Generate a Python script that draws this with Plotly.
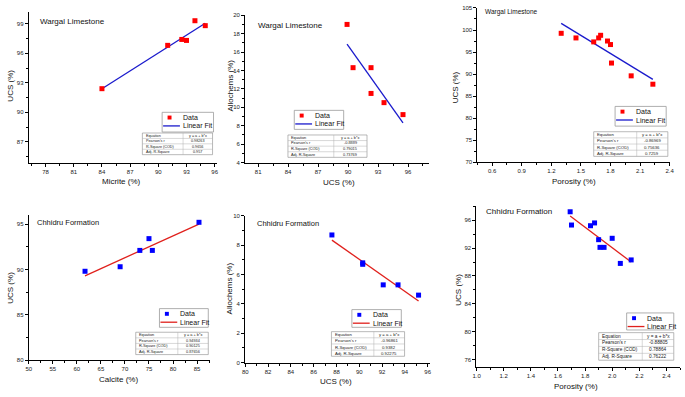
import plotly.graph_objects as go

W, H = 685, 397

# ---------------- data ----------------
p1_micrite = [84.0, 91.0, 92.5, 93.0, 93.9, 95.0]
p1_ucs = [92.4, 96.8, 97.4, 97.3, 99.3, 98.8]
p1_fit_x = [84.0, 95.0]
p1_fit_y = [92.4, 99.05]
p1_stats = ["0.98263", "0.9656", "0.957"]

p2_ucs = [89.9, 90.5, 92.3, 92.3, 93.6, 95.5]
p2_allochems = [19.0, 14.3, 14.3, 11.5, 10.5, 9.2]
p2_fit_x = [89.9, 95.5]
p2_fit_y = [16.85, 8.3]
p2_stats = ["-0.8889", "0.79015", "0.73769"]

p3_porosity = [1.30, 1.45, 1.63, 1.68, 1.70, 1.77, 1.80, 1.81, 2.01, 2.23]
p3_ucs = [99.25, 98.2, 97.3, 98.2, 98.8, 97.5, 96.7, 92.5, 89.6, 87.7]
p3_fit_x = [1.30, 2.23]
p3_fit_y = [101.5, 88.8]
p3_stats = ["-0.86969", "0.75636", "0.7259"]

p4_calcite = [61.7, 69.0, 73.1, 75.0, 75.7, 85.4]
p4_ucs = [89.8, 90.3, 92.1, 93.4, 92.1, 95.2]
p4_fit_x = [61.7, 85.4]
p4_fit_y = [89.3, 95.0]
p4_stats = ["0.94934", "0.90125", "0.87656"]

p5_ucs = [87.6, 90.3, 90.3, 92.1, 93.4, 95.2]
p5_allochems = [8.7, 6.8, 6.7, 5.3, 5.3, 4.6]
p5_fit_x = [87.6, 95.2]
p5_fit_y = [8.35, 4.2]
p5_stats = ["-0.96861", "0.9382", "0.92275"]

p6_porosity = [1.69, 1.70, 1.84, 1.87, 1.90, 1.91, 1.94, 2.00, 2.06, 2.14]
p6_ucs = [97.2, 95.3, 95.2, 95.6, 93.2, 92.1, 92.1, 93.4, 89.8, 90.3]
p6_fit_x = [1.69, 2.14]
p6_fit_y = [96.6, 90.0]
p6_stats = ["-0.88805", "0.78864", "0.76222"]

stat_labels = ["Equation", "Pearson's r", "R-Square (COD)", "Adj. R-Square"]
equation_text = "y = a + b*x"

RED = "#ff0000"
BLUE = "#0000ff"
LINE_BLUE = "#1a1acc"
LINE_RED = "#e0201c"
FONT = "Liberation Sans, Arial, sans-serif"

panels = [
    dict(x=p1_micrite, y=p1_ucs, fx=p1_fit_x, fy=p1_fit_y, stats=p1_stats,
         mc=RED, lc=LINE_BLUE, px=(25, 216, 9, 162),
         xr=[76.2, 96.3], yr=[84.9, 100.2], xt=(78, 3, 1.5), yt=(87, 3, 1.5),
         xfmt="", yfmt="",
         title="Wargal Limestone", tpos=(34.3, 18.3), tsize=8,
         xtitle="Micrite (%)", xtpos=(118.7, 181.5), ytitle="UCS (%)", ytpos=(7, 84),
         leg=(160, 111, 212, 131), tab=(140, 132, 211, 154)),
    dict(x=p2_ucs, y=p2_allochems, fx=p2_fit_x, fy=p2_fit_y, stats=p2_stats,
         mc=RED, lc=LINE_BLUE, px=(244, 430, 12.3, 162),
         xr=[79.7, 98.1], yr=[3.99, 20.01], xt=(81, 3, 1.5), yt=(4, 2, 1),
         xfmt="", yfmt="",
         title="Wargal Limestone", tpos=(254.7, 22.7), tsize=8,
         xtitle="UCS (%)", xtpos=(338.8, 182.7), ytitle="Allochems (%)", ytpos=(229.5, 84),
         leg=(293.7, 109, 343.7, 128.3), tab=(287.3, 134, 367.3, 156.7)),
    dict(x=p3_porosity, y=p3_ucs, fx=p3_fit_x, fy=p3_fit_y, stats=p3_stats,
         mc=RED, lc=LINE_BLUE, px=(479, 674, 5, 161.7),
         xr=[0.45, 2.405], yr=[69.99, 105.01], xt=(0.6, 0.3, 0.15), yt=(70, 5, 2.5),
         xfmt=".1f", yfmt="",
         title="Wargal Limestone", tpos=(485, 9.3), tsize=6.5,
         xtitle="Porosity (%)", xtpos=(576.7, 181.7), ytitle="UCS (%)", ytpos=(457, 86),
         leg=(618.3, 105, 670, 125), tab=(596.7, 130.7, 671.7, 155.7)),
    dict(x=p4_calcite, y=p4_ucs, fx=p4_fit_x, fy=p4_fit_y, stats=p4_stats,
         mc=BLUE, lc=LINE_RED, px=(25, 208, 215.3, 362.7),
         xr=[49.99, 87.6], yr=[79.99, 96], xt=(50, 5, 2.5), yt=(80, 5, 2.5),
         xfmt="", yfmt="",
         title="Chhidru Formation", tpos=(31.7, 222.7), tsize=7.5,
         xtitle="Calcite (%)", xtpos=(116.3, 382), ytitle="UCS (%)", ytpos=(6.5, 288.7),
         leg=(157.3, 310.3, 206.7, 329.3), tab=(133.3, 334.3, 206.7, 357)),
    dict(x=p5_ucs, y=p5_allochems, fx=p5_fit_x, fy=p5_fit_y, stats=p5_stats,
         mc=BLUE, lc=LINE_RED, px=(244, 431, 216, 365.3),
         xr=[79.99, 96.2], yr=[-0.01, 10.01], xt=(80, 2, 1), yt=(0, 2, 1),
         xfmt="", yfmt="",
         title="Chhidru Formation", tpos=(254, 224.3), tsize=7.5,
         xtitle="UCS (%)", xtpos=(336.3, 384.7), ytitle="Allochems (%)", ytpos=(228.5, 290),
         leg=(352, 311.3, 402, 329.3), tab=(331.3, 333.7, 405.3, 358.7)),
    dict(x=p6_porosity, y=p6_ucs, fx=p6_fit_x, fy=p6_fit_y, stats=p6_stats,
         mc=BLUE, lc=LINE_RED, px=(478, 684, 206.3, 369.3),
         xr=[0.999, 2.5], yr=[75, 98], xt=(1.0, 0.2, 0.1), yt=(76, 4, 2),
         xfmt=".1f", yfmt="",
         title="Chhidru Formation", tpos=(485.7, 212), tsize=8,
         xtitle="Porosity (%)", xtpos=(578.3, 389.5), ytitle="UCS (%)", ytpos=(459.5, 291),
         leg=(630, 314.7, 677.7, 332), tab=(601.7, 334.7, 677.7, 362.7)),
]


def fx_(x):
    return x / W


def fy_(y):
    return 1 - y / H


fig = go.Figure()
annotations = []
shapes = []
layout_axes = {}

for i, p in enumerate(panels, start=1):
    xn = "x" if i == 1 else f"x{i}"
    yn = "y" if i == 1 else f"y{i}"
    L, R, T, B = p["px"]
    common = dict(showline=True, linecolor="black", linewidth=1, ticks="outside",
                  ticklen=3, tickwidth=1, tickcolor="black", showgrid=False,
                  zeroline=False, tickfont=dict(size=6, color="#222", family=FONT),
                  fixedrange=True, mirror=False)
    layout_axes["xaxis" if i == 1 else f"xaxis{i}"] = dict(
        common, domain=[fx_(L), fx_(R)], range=p["xr"], anchor=yn,
        tickmode="linear", tick0=p["xt"][0], dtick=p["xt"][1], tickformat=p["xfmt"],
        minor=dict(ticks="outside", ticklen=2, tickcolor="black", tickwidth=1,
                   tick0=p["xt"][0], dtick=p["xt"][2], showgrid=False))
    layout_axes["yaxis" if i == 1 else f"yaxis{i}"] = dict(
        common, domain=[fy_(B), fy_(T)], range=p["yr"], anchor=xn,
        tickmode="linear", tick0=p["yt"][0], dtick=p["yt"][1], tickformat=p["yfmt"],
        minor=dict(ticks="outside", ticklen=2, tickcolor="black", tickwidth=1,
                   tick0=p["yt"][0], dtick=p["yt"][2], showgrid=False))

    fig.add_trace(go.Scatter(x=p["fx"], y=p["fy"], mode="lines",
                             line=dict(color=p["lc"], width=1.3),
                             xaxis=xn, yaxis=yn, showlegend=False, hoverinfo="skip"))
    fig.add_trace(go.Scatter(x=p["x"], y=p["y"], mode="markers",
                             marker=dict(symbol="square", size=5, color=p["mc"],
                                         line=dict(width=0)),
                             xaxis=xn, yaxis=yn, showlegend=False, cliponaxis=False))

    # panel title
    annotations.append(dict(text=p["title"], x=fx_(p["tpos"][0]), y=fy_(p["tpos"][1]),
                            xref="paper", yref="paper", xanchor="left", yanchor="middle",
                            showarrow=False, font=dict(size=p["tsize"], color="#111", family=FONT)))
    # axis titles
    annotations.append(dict(text=p["xtitle"], x=fx_(p["xtpos"][0]), y=fy_(p["xtpos"][1]),
                            xref="paper", yref="paper", xanchor="center", yanchor="middle",
                            showarrow=False, font=dict(size=8, color="#111", family=FONT)))
    annotations.append(dict(text=p["ytitle"], x=fx_(p["ytpos"][0]), y=fy_(p["ytpos"][1]),
                            xref="paper", yref="paper", xanchor="center", yanchor="middle",
                            textangle=-90, showarrow=False,
                            font=dict(size=8, color="#111", family=FONT)))

    # legend box
    lL, lT, lR, lB = p["leg"]
    shapes.append(dict(type="rect", xref="paper", yref="paper",
                       x0=fx_(lL), x1=fx_(lR), y0=fy_(lB), y1=fy_(lT),
                       line=dict(color="#9a9a9a", width=0.8), fillcolor="white", layer="above"))
    row1 = lT + 5.3
    row2 = lT + 13.8
    mx = lL + 7.5
    shapes.append(dict(type="rect", xref="paper", yref="paper",
                       x0=fx_(mx - 2), x1=fx_(mx + 2), y0=fy_(row1 + 2), y1=fy_(row1 - 2),
                       line=dict(width=0), fillcolor=p["mc"], layer="above"))
    shapes.append(dict(type="line", xref="paper", yref="paper",
                       x0=fx_(lL + 1), x1=fx_(lL + 18), y0=fy_(row2), y1=fy_(row2),
                       line=dict(color=p["lc"], width=1.3), layer="above"))
    for txt, ry in (("Data", row1), ("Linear Fit", row2)):
        annotations.append(dict(text=txt, x=fx_(lL + 19), y=fy_(ry), xref="paper", yref="paper",
                                xanchor="left", yanchor="middle", showarrow=False,
                                font=dict(size=7, color="#111", family=FONT)))

    # statistics table
    tL, tT, tR, tB = p["tab"]
    shapes.append(dict(type="rect", xref="paper", yref="paper",
                       x0=fx_(tL), x1=fx_(tR), y0=fy_(tB), y1=fy_(tT),
                       line=dict(color="#8a8a8a", width=0.6), fillcolor="white", layer="above"))
    rh = (tB - tT) / 4
    div = tL + (tR - tL) * 0.58
    shapes.append(dict(type="line", xref="paper", yref="paper",
                       x0=fx_(div), x1=fx_(div), y0=fy_(tB), y1=fy_(tT),
                       line=dict(color="#b0b0b0", width=0.5), layer="above"))
    for k in range(1, 4):
        shapes.append(dict(type="line", xref="paper", yref="paper",
                           x0=fx_(tL), x1=fx_(tR), y0=fy_(tT + k * rh), y1=fy_(tT + k * rh),
                           line=dict(color="#b0b0b0", width=0.5), layer="above"))
    right_vals = [equation_text] + p["stats"]
    fsz = rh * 0.68
    for k in range(4):
        cy = tT + (k + 0.5) * rh
        annotations.append(dict(text=stat_labels[k], x=fx_(tL + 1.5), y=fy_(cy),
                                xref="paper", yref="paper", xanchor="left", yanchor="middle",
                                showarrow=False, font=dict(size=fsz, color="#222", family=FONT)))
        annotations.append(dict(text=right_vals[k], x=fx_((div + tR) / 2), y=fy_(cy),
                                xref="paper", yref="paper", xanchor="center", yanchor="middle",
                                showarrow=False, font=dict(size=fsz, color="#222", family=FONT)))

fig.update_layout(width=W, height=H, margin=dict(l=0, r=0, t=0, b=0),
                  paper_bgcolor="white", plot_bgcolor="white",
                  showlegend=False, annotations=annotations, shapes=shapes,
                  font=dict(family=FONT), **layout_axes)

fig.write_html("out.html", config={"displayModeBar": False},
               post_script="document.body.style.margin='0';document.body.style.overflow='hidden';")
